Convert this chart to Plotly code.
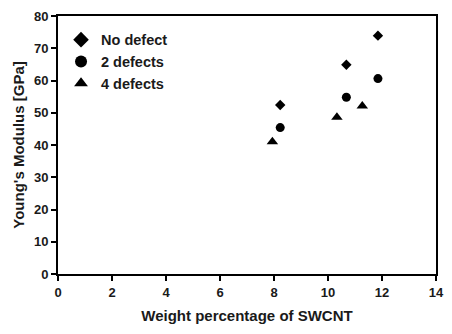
import plotly.graph_objects as go

x_no = [8.23, 10.68, 11.85]
y_no = [52.4, 64.9, 73.9]
x_2 = [8.23, 10.68, 11.85]
y_2 = [45.4, 54.8, 60.6]
x_4 = [7.94, 10.33, 11.27]
y_4 = [41.0, 48.6, 52.1]
series_names = ["No defect", "2 defects", "4 defects"]
x_ticks = [0, 2, 4, 6, 8, 10, 12, 14]
y_ticks = [0, 10, 20, 30, 40, 50, 60, 70, 80]

FONT = "Liberation Sans, Arial, sans-serif"

fig = go.Figure()
fig.add_trace(go.Scatter(x=x_no, y=y_no, mode="markers", name=series_names[0],
                         marker=dict(symbol="diamond", size=8, color="black")))
fig.add_trace(go.Scatter(x=x_2, y=y_2, mode="markers", name=series_names[1],
                         marker=dict(symbol="circle", size=9, color="black")))
fig.add_trace(go.Scatter(x=x_4, y=y_4, mode="markers", name=series_names[2],
                         marker=dict(symbol="triangle-up", size=10, color="black")))

axis_common = dict(showgrid=False, zeroline=False, showline=True, linecolor="black",
                   linewidth=2, mirror=True, ticks="outside", ticklen=5, tickwidth=1.5,
                   tickcolor="black", automargin=False,
                   tickfont=dict(family=FONT, size=13, color="#1a1a1a"))

fig.update_xaxes(range=[0, 14], tickvals=x_ticks, **axis_common,
                 ticktext=[f"<b>{v}</b>" for v in x_ticks],
                 title=dict(text="<b>Weight percentage of SWCNT</b>",
                            font=dict(family=FONT, size=15, color="#1a1a1a"), standoff=12))
fig.update_yaxes(range=[0, 80], tickvals=y_ticks, **axis_common,
                 ticktext=[f"<b>{v}</b>" for v in y_ticks],
                 title=dict(text="<b>Young's Modulus [GPa]</b>",
                            font=dict(family=FONT, size=15, color="#1a1a1a"), standoff=6))

fig.update_layout(
    width=436, height=318,
    margin=dict(l=50, r=8, t=8, b=52),
    plot_bgcolor="white", paper_bgcolor="white",
    showlegend=True,
    legend=dict(x=0.008, y=0.97, xanchor="left", yanchor="top",
                font=dict(family=FONT, size=14.5, color="#1a1a1a"),
                bgcolor="rgba(0,0,0,0)", itemwidth=30, tracegroupgap=0,
                itemsizing="constant"),
)
fig.for_each_trace(lambda t: t.update(name=f"<b>{t.name}</b>"))

fig.write_html("out.html")
